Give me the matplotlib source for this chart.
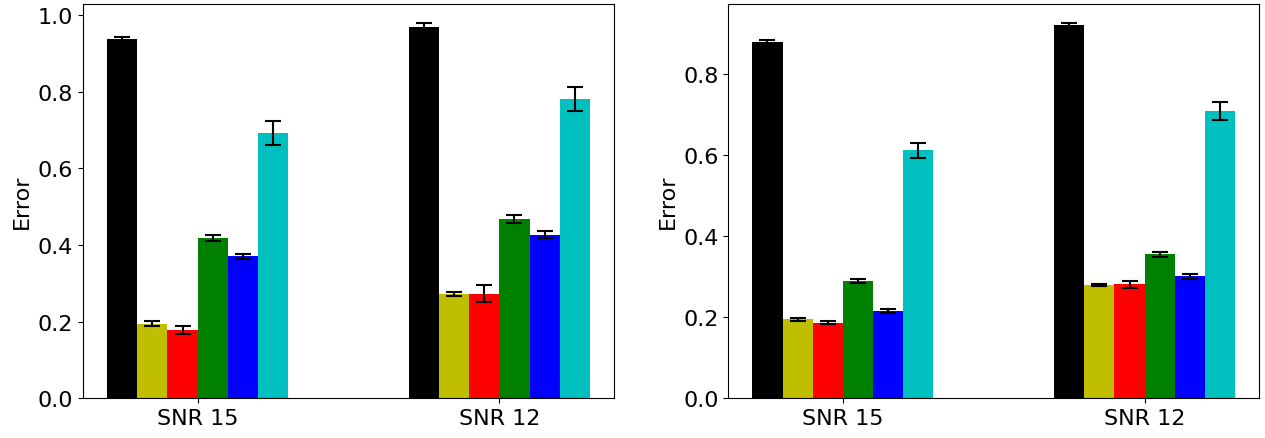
import numpy as np
import matplotlib
matplotlib.use("Agg")
import matplotlib.pyplot as plt

groups = ["SNR 15", "SNR 12"]
colors = ["k", "y", "r", "g", "b", "c"]

# left panel: one list per method (SNR 15, SNR 12)
left_means = [
    [0.937, 0.970],
    [0.195, 0.273],
    [0.178, 0.273],
    [0.418, 0.468],
    [0.371, 0.427],
    [0.692, 0.781],
]
left_errs = [
    [0.007, 0.010],
    [0.006, 0.006],
    [0.011, 0.022],
    [0.008, 0.011],
    [0.0065, 0.009],
    [0.031, 0.032],
]

# right panel
right_means = [
    [0.878, 0.920],
    [0.195, 0.279],
    [0.187, 0.281],
    [0.289, 0.355],
    [0.216, 0.301],
    [0.611, 0.708],
]
right_errs = [
    [0.004, 0.0055],
    [0.003, 0.002],
    [0.0045, 0.009],
    [0.005, 0.0066],
    [0.005, 0.0057],
    [0.019, 0.0225],
]

plt.rcParams['font.size'] = 16

fig = plt.figure(figsize=(12.65, 4.39), dpi=100)
ax1 = fig.add_axes([0.0656, 0.090, 0.4198, 0.8986])
ax2 = fig.add_axes([0.5757, 0.090, 0.4198, 0.8986])

width = 0.1
x = np.arange(len(groups))


def draw_panel(ax, means, errs):
    n = len(means)
    for i in range(n):
        offset = (i - (n - 1) / 2) * width
        ax.bar(x + offset, means[i], width, color=colors[i],
               yerr=errs[i], capsize=5.5, ecolor='black',
               error_kw={'elinewidth': 1.5, 'capthick': 1.5})
    ax.set_xticks(x)
    ax.set_xticklabels(groups)
    ax.set_ylabel("Error")


draw_panel(ax1, left_means, left_errs)
draw_panel(ax2, right_means, right_errs)

fig.savefig("out.png", dpi=100)
